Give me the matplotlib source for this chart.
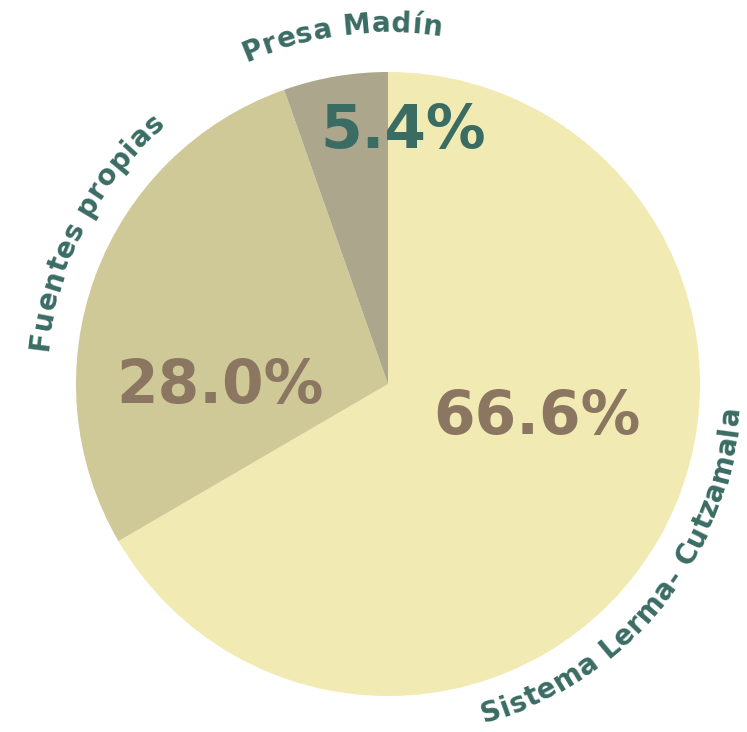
import numpy as np
import matplotlib.pyplot as plt
from matplotlib.font_manager import FontProperties, findfont
from matplotlib.ft2font import FT2Font

# Origen del agua: participación de cada fuente
sources = ["Sistema Lerma- Cutzamala", "Fuentes propias", "Presa Madín"]
shares = [66.6, 28.0, 5.4]
slice_colors = ["#F1EAB3", "#CFC897", "#ABA68C"]
pct_colors = ["#8B7761", "#8B7761", "#3A6C64"]

TEAL = "#3A6C64"
W_PX, H_PX, DPI = 747, 732, 100
R_PX = 312              # radio del pastel en pixeles
CX, CY = 388, 384       # centro del pastel (pixeles desde arriba a la izquierda)

fig = plt.figure(figsize=(W_PX / DPI, H_PX / DPI), dpi=DPI)
ax = fig.add_axes([0, 0, 1, 1])

wedges, _ = ax.pie(shares, colors=slice_colors, startangle=90,
                   counterclock=False, radius=1.0,
                   wedgeprops=dict(linewidth=0))

ax.set_xlim(-CX / R_PX, (W_PX - CX) / R_PX)
ax.set_ylim(-(H_PX - CY) / R_PX, CY / R_PX)
ax.set_aspect("equal")
ax.axis("off")

# porcentajes dentro de cada rebanada (x, y de la linea base)
pct_xy = [(0.478, -0.160), (-0.538, -0.061), (0.048, 0.756)]
for val, (x, y), col in zip(shares, pct_xy, pct_colors):
    ax.text(x, y, f"{val:.1f}%", ha="center", va="baseline",
            fontsize=43, fontweight="bold", color=col)


def arc_text(s, theta_c, r, size, clockwise, tracking=0.6):
    """Escribe s letra por letra sobre un arco de radio r (unidades del pastel)."""
    fp = FontProperties(family="DejaVu Sans", weight="bold", size=size)
    font = FT2Font(findfont(fp))
    font.set_size(size, DPI)
    adv = np.array([font.load_char(ord(c)).linearHoriAdvance / 65536 + tracking
                    for c in s])
    starts = np.concatenate([[0], np.cumsum(adv)[:-1]])
    mids = starts + adv / 2 - adv.sum() / 2
    for ch, m in zip(s, mids):
        if ch == " ":
            continue
        dang = np.degrees(m / (r * R_PX))
        if clockwise:
            ang = theta_c - dang
            rot = ang - 90
        else:
            ang = theta_c + dang
            rot = ang + 90
        a = np.radians(ang)
        ax.text(r * np.cos(a), r * np.sin(a), ch, fontproperties=fp,
                color=TEAL, ha="center", va="baseline",
                rotation=rot, rotation_mode="anchor")


arc_text(sources[2], 97.5, 1.128, 20, clockwise=True)
arc_text(sources[1], 152.5, 1.095, 20, clockwise=True)
arc_text(sources[0], -39.0, 1.13, 20, clockwise=False)

fig.savefig("out.png", dpi=DPI)
